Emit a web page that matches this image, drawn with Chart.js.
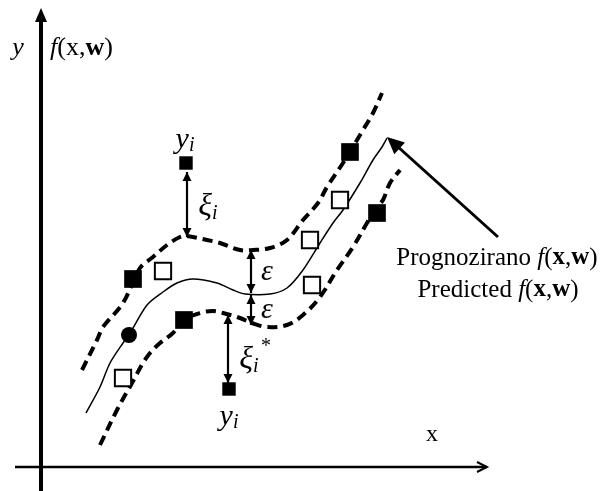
<!DOCTYPE html>
<html>
<head>
<meta charset="utf-8">
<script src="https://cdn.jsdelivr.net/npm/chart.js@4.4.0/dist/chart.umd.min.js"></script>
<style>
  html, body { margin: 0; padding: 0; background: #fff; }
  canvas { display: block; }
</style>
</head>
<body>
<canvas id="svrChart" width="613" height="491"></canvas>
<script>
// samples, origin at the axis crossing, y upwards
const upperTube = [
  [41, 97], [56, 127], [62, 140], [82, 164], [99, 199], [112, 210], [126, 222],
  [139, 230], [146, 231], [166, 227], [179, 224], [199, 217], [212, 217], [229, 219],
  [246, 227], [262, 247], [277, 264], [286, 280], [302, 304], [322, 337], [332, 354], [341, 374],
];
const predicted = [
  [45, 54], [59, 80], [69, 104], [82, 124], [88, 132], [106, 162], [122, 175],
  [136, 184], [152, 188], [176, 184], [192, 177], [204, 173], [229, 173], [246, 179],
  [262, 197], [279, 224], [292, 244], [302, 257], [319, 284], [332, 307], [341, 320], [346, 329],
];
const lowerTube = [
  [59, 22], [76, 57], [91, 84], [102, 104], [109, 114], [119, 124], [132, 134],
  [143, 147], [159, 154], [172, 156], [182, 154], [199, 149], [211, 144], [226, 140],
  [246, 142], [262, 152], [279, 170], [296, 197], [312, 220], [326, 244], [336, 260],
  [342, 267], [349, 284], [359, 297],
];
const filledSquares = [[92, 188], [143, 147], [309, 315], [336, 254]];
const outlierSquares = [[145, 304], [188, 78]];
const openSquares = [[122, 196], [269, 227], [299, 267], [271, 182], [82, 89]];
const supportCircle = [[88, 132]];

// vertical double arrows: x, y from, y to
const slackArrows = [[146, 295, 230], [210, 217, 174], [210, 172, 142], [187, 152, 84]];
const predArrow = [[457, 230], [346, 330]];

const pts = (arr) => arr.map(([x, y]) => ({ x, y }));

const serif = '"Liberation Serif", "Times New Roman", serif';
const F = (style, size) => `${style} ${size}px ${serif}`;

function drawRich(ctx, parts, x, y, align) {
    let total = 0;
    parts.forEach((p) => { ctx.font = p.f; p.w = ctx.measureText(p.t).width; total += p.w; });
    let cx = align === 'center' ? x - total / 2 : x;
    parts.forEach((p) => { ctx.font = p.f; ctx.fillText(p.t, cx, y + (p.dy || 0)); cx += p.w; });
}

function arrowHead(ctx, x0, y0, x1, y1, len, half, filled) {
    const a = Math.atan2(y1 - y0, x1 - x0);
    const bx = x1 - len * Math.cos(a), by = y1 - len * Math.sin(a);
    const nx = -Math.sin(a) * half, ny = Math.cos(a) * half;
    ctx.beginPath();
    ctx.moveTo(bx + nx, by + ny);
    ctx.lineTo(x1, y1);
    ctx.lineTo(bx - nx, by - ny);
    if (filled) { ctx.closePath(); ctx.fill(); } else { ctx.stroke(); }
}

const sketchPlugin = {
    id: 'sketch',
    beforeDatasetsDraw(chart) {
        const { ctx, scales: { x, y } } = chart;
        ctx.save();
        ctx.strokeStyle = '#000';
        ctx.fillStyle = '#000';
        // y axis
        ctx.lineWidth = 4;
        ctx.beginPath();
        ctx.moveTo(x.getPixelForValue(0), y.getPixelForValue(-24));
        ctx.lineTo(x.getPixelForValue(0), y.getPixelForValue(450));
        ctx.stroke();
        arrowHead(ctx, x.getPixelForValue(0), y.getPixelForValue(0),
            x.getPixelForValue(0), y.getPixelForValue(459), 14, 6, true);
        // x axis
        ctx.lineWidth = 2.5;
        ctx.beginPath();
        ctx.moveTo(x.getPixelForValue(-26), y.getPixelForValue(0));
        ctx.lineTo(x.getPixelForValue(446), y.getPixelForValue(0));
        ctx.stroke();
        ctx.lineWidth = 2;
        arrowHead(ctx, x.getPixelForValue(0), y.getPixelForValue(0),
            x.getPixelForValue(446), y.getPixelForValue(0), 10, 5, false);
        ctx.restore();
    },
    afterDatasetsDraw(chart) {
        const { ctx, scales: { x, y } } = chart;
        ctx.save();
        ctx.strokeStyle = '#000';
        ctx.fillStyle = '#000';

        // slack / epsilon arrows
        ctx.lineWidth = 2.2;
        slackArrows.forEach(([ax, y0, y1]) => {
            const px = x.getPixelForValue(ax);
            const p0 = y.getPixelForValue(y0), p1 = y.getPixelForValue(y1);
            ctx.beginPath();
            ctx.moveTo(px, p0);
            ctx.lineTo(px, p1);
            ctx.stroke();
            arrowHead(ctx, px, p1, px, p0, 9, 4.5, true);
            arrowHead(ctx, px, p0, px, p1, 9, 4.5, true);
        });

        // arrow to the predicted curve
        const [[tx0, ty0], [tx1, ty1]] = predArrow;
        const ax0 = x.getPixelForValue(tx0), ay0 = y.getPixelForValue(ty0);
        const ax1 = x.getPixelForValue(tx1), ay1 = y.getPixelForValue(ty1);
        ctx.lineWidth = 3;
        ctx.beginPath();
        ctx.moveTo(ax0, ay0);
        ctx.lineTo(ax1 + (ax0 - ax1) * 0.1, ay1 + (ay0 - ay1) * 0.1);
        ctx.stroke();
        arrowHead(ctx, ax0, ay0, ax1, ay1, 17, 8, true);

        // texts
        ctx.textBaseline = 'middle';
        const at = (vx, vy) => [x.getPixelForValue(vx), y.getPixelForValue(vy)];
        let p;
        p = at(-23, 419);
        drawRich(ctx, [{ t: 'y', f: F('italic', 26) }], p[0], p[1], 'center');
        p = at(9, 419);
        drawRich(ctx, [
            { t: 'f', f: F('italic', 26) }, { t: '(x,', f: F('normal', 26) },
            { t: 'w', f: F('bold', 26) }, { t: ')', f: F('normal', 26) },
        ], p[0], p[1], 'left');
        const yi = () => [{ t: 'y', f: F('italic', 30) }, { t: 'i', f: F('italic', 20), dy: 6 }];
        p = at(144, 327);
        drawRich(ctx, yi(), p[0], p[1], 'center');
        p = at(188, 50);
        drawRich(ctx, yi(), p[0], p[1], 'center');
        const xi = () => [{ t: 'ξ', f: F('italic', 32) }, { t: 'i', f: F('italic', 20), dy: 7 }];
        p = at(167, 260);
        drawRich(ctx, xi(), p[0], p[1], 'center');
        p = at(208, 107);
        drawRich(ctx, xi(), p[0], p[1], 'center');
        ctx.font = F('normal', 20);
        p = at(220, 120);
        ctx.fillText('*', p[0], p[1]);
        p = at(226, 195);
        drawRich(ctx, [{ t: 'ε', f: F('italic', 30) }], p[0], p[1], 'center');
        p = at(226, 157);
        drawRich(ctx, [{ t: 'ε', f: F('italic', 30) }], p[0], p[1], 'center');
        p = at(391, 32);
        drawRich(ctx, [{ t: 'x', f: F('normal', 24) }], p[0], p[1], 'center');
        const fxw = () => [
            { t: 'f', f: F('italic', 25) }, { t: '(', f: F('normal', 25) },
            { t: 'x', f: F('bold', 25) }, { t: ',', f: F('normal', 25) },
            { t: 'w', f: F('bold', 25) }, { t: ')', f: F('normal', 25) },
        ];
        p = at(456, 209);
        drawRich(ctx, [{ t: 'Prognozirano ', f: F('normal', 25) }, ...fxw()], p[0], p[1], 'center');
        p = at(457, 177);
        drawRich(ctx, [{ t: 'Predicted ', f: F('normal', 25) }, ...fxw()], p[0], p[1], 'center');
        ctx.restore();
    },
};

const tube = (data) => ({
    type: 'line', data: pts(data), borderColor: '#000', borderWidth: 4,
    borderDash: [10, 6], pointRadius: 0, tension: 0.35, fill: false, order: 5,
});

new Chart(document.getElementById('svrChart'), {
    type: 'scatter',
    data: {
        datasets: [
            { data: pts(filledSquares), pointStyle: 'rect', pointRadius: 12.5, backgroundColor: '#000', borderColor: '#000', borderWidth: 0, order: 1 },
            { data: pts(outlierSquares), pointStyle: 'rect', pointRadius: 9.5, backgroundColor: '#000', borderColor: '#000', borderWidth: 0, order: 1 },
            { data: pts(openSquares), pointStyle: 'rect', pointRadius: 11.5, backgroundColor: '#fff', borderColor: '#000', borderWidth: 2, order: 1 },
            { data: pts(supportCircle), pointStyle: 'circle', pointRadius: 8, backgroundColor: '#000', borderColor: '#000', borderWidth: 0, order: 1 },
            tube(upperTube),
            {
                type: 'line', data: pts(predicted), borderColor: '#000', borderWidth: 1.5,
                pointRadius: 0, tension: 0.3, fill: false, order: 5,
            },
            tube(lowerTube),
        ],
    },
    options: {
        responsive: false,
        animation: false,
        layout: { padding: 0, autoPadding: false },
        plugins: { legend: { display: false }, tooltip: { enabled: false } },
        scales: {
            x: { type: 'linear', min: -41, max: 572, display: false },
            y: { type: 'linear', min: -24, max: 467, display: false },
        },
    },
    plugins: [sketchPlugin],
});
</script>
</body>
</html>
